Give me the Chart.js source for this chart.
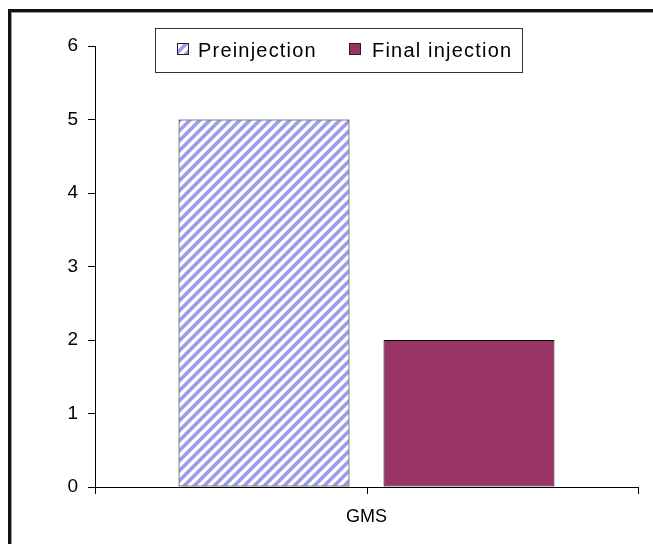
<!DOCTYPE html>
<html>
<head>
<meta charset="utf-8">
<script src="https://cdn.jsdelivr.net/npm/chart.js@4/dist/chart.umd.min.js"></script>
<style>
  html, body { margin: 0; padding: 0; background: #fff; }
  body { width: 653px; height: 544px; position: relative; overflow: hidden; }
  #frame {
    position: absolute; left: 8px; top: 9px; width: 700px; height: 600px;
    border: 3px solid #111; box-shadow: inset 1px 1px 0 #999;
  }
  #wrap { position: absolute; left: 0; top: 0; width: 653px; height: 544px; }
</style>
</head>
<body>
<div id="frame"></div>
<div id="wrap"><canvas id="myChart1"></canvas></div>
<script>
const categories = ["GMS"];
const seriesNames = ["Preinjection", "Final injection"];
const preinjection = [5];
const finalInjection = [2];
const yTicks = [0, 1, 2, 3, 4, 5, 6];

Chart.defaults.font.family = "'Liberation Sans', Arial, sans-serif";
Chart.defaults.color = "#000";

function makeHatch() {
  const c = document.createElement("canvas");
  c.width = 10;
  c.height = 10;
  const g = c.getContext("2d");
  g.fillStyle = "#fff";
  g.fillRect(0, 0, 10, 10);
  g.strokeStyle = "#9b9bef";
  g.lineWidth = 3.6;
  g.beginPath();
  g.moveTo(-5, 5); g.lineTo(5, -5);
  g.moveTo(0, 10); g.lineTo(10, 0);
  g.moveTo(5, 15); g.lineTo(15, 5);
  g.stroke();
  return g.createPattern(c, "repeat");
}

const ctx = document.getElementById("myChart1").getContext("2d");
const hatch = makeHatch();

// legend drawn by hand: boxed, overlapping the top of the plot like the original
const boxedLegend = {
  id: "boxedLegend",
  afterDraw(chart) {
    const c = chart.ctx;
    c.save();
    c.fillStyle = "#fff";
    c.fillRect(155, 28, 367, 44);
    c.strokeStyle = "#333";
    c.lineWidth = 1;
    c.strokeRect(155.5, 28.5, 367, 44);

    c.font = "20px 'Liberation Sans', Arial, sans-serif";
    c.letterSpacing = "1.2px";
    c.textBaseline = "middle";
    c.fillStyle = "#000";

    const items = [
      { sx: 177, text: seriesNames[0], tx: 198, fill: hatch },
      { sx: 349, text: seriesNames[1], tx: 372, fill: "#993366" }
    ];
    items.forEach(function (it) {
      c.fillStyle = it.fill;
      c.fillRect(it.sx, 43, 11, 11);
      c.strokeStyle = "#222";
      c.strokeRect(it.sx + 0.5, 43.5, 11, 11);
      c.fillStyle = "#000";
      c.fillText(it.text, it.tx, 51);
    });

    // centre tick under the category
    const x = chart.scales.x;
    const px = Math.round(x.getPixelForValue(0)) + 0.5;
    c.strokeStyle = "#000";
    c.beginPath();
    c.moveTo(px, chart.chartArea.bottom);
    c.lineTo(px, chart.chartArea.bottom + 7);
    c.stroke();
    c.restore();
  }
};

const data = {
  labels: categories,
  datasets: [
    {
      label: seriesNames[0],
      data: preinjection,
      backgroundColor: hatch,
      borderColor: "#000",
      borderWidth: 1,
      borderSkipped: false
    },
    {
      label: seriesNames[1],
      data: finalInjection,
      backgroundColor: "#993366",
      borderColor: "#000",
      borderWidth: 1,
      borderSkipped: false
    }
  ]
};

const config = {
  type: "bar",
  data,
  options: {
    responsive: true,
    maintainAspectRatio: false,
    animation: false,
    layout: {
      padding: { left: 0, top: 46, right: 15, bottom: 0 }
    },
    categoryPercentage: 0.755,
    barPercentage: 0.834,
    plugins: {
      legend: { display: false },
      tooltip: { enabled: false }
    },
    scales: {
      x: {
        afterFit: function (scale) { scale.height = 57; },
        grid: {
          offset: true,
          drawOnChartArea: false,
          tickLength: 7,
          color: "#000"
        },
        border: { color: "#000", width: 1 },
        ticks: {
          padding: 12,
          font: { size: 18 }
        }
      },
      y: {
        min: 0,
        max: 6,
        afterFit: function (scale) { scale.width = 95; },
        afterBuildTicks: function (scale) {
          scale.ticks = yTicks.map(function (v) { return { value: v }; });
        },
        grid: {
          drawOnChartArea: false,
          tickLength: 7,
          color: "#000"
        },
        border: { color: "#000", width: 1 },
        ticks: {
          padding: 10,
          font: { size: 19 }
        }
      }
    }
  },
  plugins: [boxedLegend]
};

new Chart(ctx, config);
</script>
</body>
</html>
